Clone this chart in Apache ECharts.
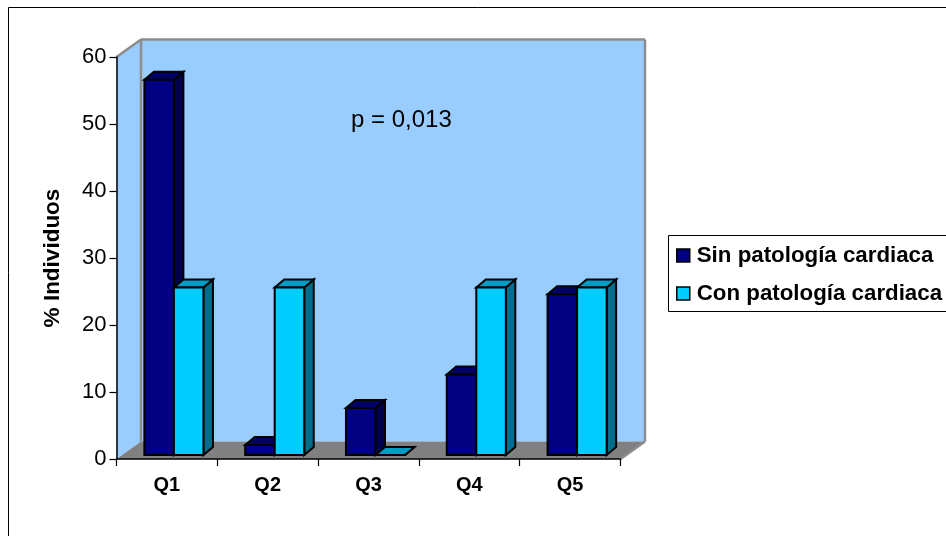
<!DOCTYPE html>
<html>
<head>
<meta charset="utf-8">
<style>html,body{margin:0;padding:0;background:#fff;overflow:hidden}#chart{width:946px;height:536px}</style>
<script src="https://cdn.jsdelivr.net/npm/echarts@6/dist/echarts.min.js"></script>
</head>
<body>
<div id="chart"></div>
<script>
const categories = ['Q1', 'Q2', 'Q3', 'Q4', 'Q5'];
const sinPatologia = [56, 1.5, 7, 12, 24];
const conPatologia = [25, 25, 0, 25, 25];
const yTicks = { min: 0, max: 60, interval: 10 };

const FONT = '"Liberation Sans", Arial, sans-serif';
// Oblique projection of the box: wall depth and bar depth, in pixels
const WALL_DX = 24.5, WALL_DY = -17.5;
const BAR_DX = 9.5, BAR_DY = -8;
const BAR_SHIFT_X = 7, BAR_SHIFT_Y = -4;
const BAR_BAND = 0.293;

function poly(points, fill, stroke, lineWidth) {
  return { type: 'polygon', shape: { points },
    style: { fill, stroke: stroke || null, lineWidth: lineWidth || 0, lineJoin: 'miter' } };
}

function renderWalls(params, api) {
  const tl = api.coord([0, yTicks.max]);
  const bl = api.coord([0, yTicks.min]);
  const band = api.size([1, 0])[0];
  const x0 = bl[0] - band / 2, x1 = x0 + band * categories.length;
  const top = tl[1], bottom = bl[1];
  const bx0 = x0 + WALL_DX, bx1 = x1 + WALL_DX, btop = top + WALL_DY, bbot = bottom + WALL_DY;
  const edge = { stroke: '#8c8c8c', lineWidth: 2.5 };
  const seg = (a, b, c, d) => ({ type: 'line', shape: { x1: a, y1: b, x2: c, y2: d }, style: edge });
  return { type: 'group', children: [
    poly([[bx0, btop], [bx1, btop], [bx1, bbot], [bx0, bbot]], '#99ccff'),
    poly([[x0, top], [bx0, btop], [bx0, bbot], [x0, bottom]], '#99ccff'),
    poly([[x0, bottom], [bx0, bbot], [bx1, bbot], [x1, bottom]], '#808080'),
    seg(bx0, btop, bx0, bbot),
    seg(x0, top, bx0, btop),
    seg(bx0, btop, bx1, btop),
    seg(bx1, btop, bx1, bbot),
    seg(bx1, bbot, x1, bottom)
  ] };
}

function barRenderer(slot, front, topFace, side) {
  return function (params, api) {
    const base = api.coord([api.value(0), 0]);
    const head = api.coord([api.value(0), api.value(1)]);
    const band = api.size([1, 0])[0];
    const w = band * BAR_BAND;
    const l = base[0] + BAR_SHIFT_X + slot * w;
    const r = l + w;
    const b = base[1] + BAR_SHIFT_Y;
    const t = head[1] + BAR_SHIFT_Y;
    const ink = '#000000';
    return { type: 'group', children: [
      poly([[r, b], [r + BAR_DX, b + BAR_DY], [r + BAR_DX, t + BAR_DY], [r, t]], side, ink, 2),
      poly([[l, t], [l + BAR_DX, t + BAR_DY], [r + BAR_DX, t + BAR_DY], [r, t]], topFace, ink, 2),
      poly([[l, b], [r, b], [r, t], [l, t]], front, ink, 2)
    ] };
  };
}

const chart = echarts.init(document.getElementById('chart'), null, { renderer: 'canvas' });
chart.setOption({
  animation: false,
  backgroundColor: '#ffffff',
  grid: { left: 116.5, top: 57, width: 504, height: 402, containLabel: false },
  xAxis: {
    type: 'category', data: categories, boundaryGap: true, z: 10,
    axisLine: { show: true, lineStyle: { color: '#000', width: 1.5 } },
    axisTick: { show: true, length: 7, lineStyle: { color: '#000', width: 1.2 } },
    axisLabel: { color: '#000', fontFamily: FONT, fontWeight: 'bold', fontSize: 20, margin: 16 },
    splitLine: { show: false }
  },
  yAxis: {
    type: 'value', min: yTicks.min, max: yTicks.max, interval: yTicks.interval, z: 10,
    name: '% Individuos', nameLocation: 'middle', nameGap: 52, nameRotate: 90,
    nameTextStyle: { color: '#000', fontFamily: FONT, fontWeight: 'bold', fontSize: 22.5 },
    axisLine: { show: true, lineStyle: { color: '#000', width: 1.5 } },
    axisTick: { show: true, length: 7, lineStyle: { color: '#000', width: 1.2 } },
    axisLabel: { color: '#000', fontFamily: FONT, fontSize: 22, margin: 10 },
    splitLine: { show: false }
  },
  legend: {
    left: 668.5, top: 235.5, orient: 'vertical', padding: [9, 100, 7, 7.5],
    itemWidth: 13, itemHeight: 13, itemGap: 16,
    backgroundColor: '#fff', borderColor: '#000', borderWidth: 1,
    textStyle: { color: '#000', fontFamily: FONT, fontWeight: 'bold', fontSize: 22.3, padding: [0, 0, 0, 2] },
    data: [
      { name: 'Sin patología cardiaca', icon: 'rect', itemStyle: { color: '#000080', borderColor: '#000', borderWidth: 1.5 } },
      { name: 'Con patología cardiaca', icon: 'rect', itemStyle: { color: '#00ccff', borderColor: '#000', borderWidth: 1.5 } }
    ]
  },
  graphic: [
    { type: 'polyline', silent: true, z: 0,
      shape: { points: [[8.5, 540], [8.5, 7.5], [950, 7.5]] },
      style: { fill: null, stroke: '#000', lineWidth: 1 } },
    { type: 'text', left: 351, top: 108, z: 5,
      style: { text: 'p = 0,013', fill: '#000', font: '24px ' + FONT } }
  ],
  series: [
    { type: 'custom', name: 'walls', clip: false, z: 1, silent: true,
      renderItem: renderWalls, data: [[0, 0]], encode: { x: 0, y: 1 } },
    { type: 'custom', name: 'Sin patología cardiaca', clip: false, z: 2, silent: true,
      itemStyle: { color: '#000080' },
      renderItem: barRenderer(-1, '#000080', '#000066', '#00004d'),
      data: sinPatologia.map((v, i) => [i, v]), encode: { x: 0, y: 1 } },
    { type: 'custom', name: 'Con patología cardiaca', clip: false, z: 3, silent: true,
      itemStyle: { color: '#00ccff' },
      renderItem: barRenderer(0, '#00ccff', '#009cc4', '#006e8a'),
      data: conPatologia.map((v, i) => [i, v]), encode: { x: 0, y: 1 } }
  ]
});
</script>
</body>
</html>
